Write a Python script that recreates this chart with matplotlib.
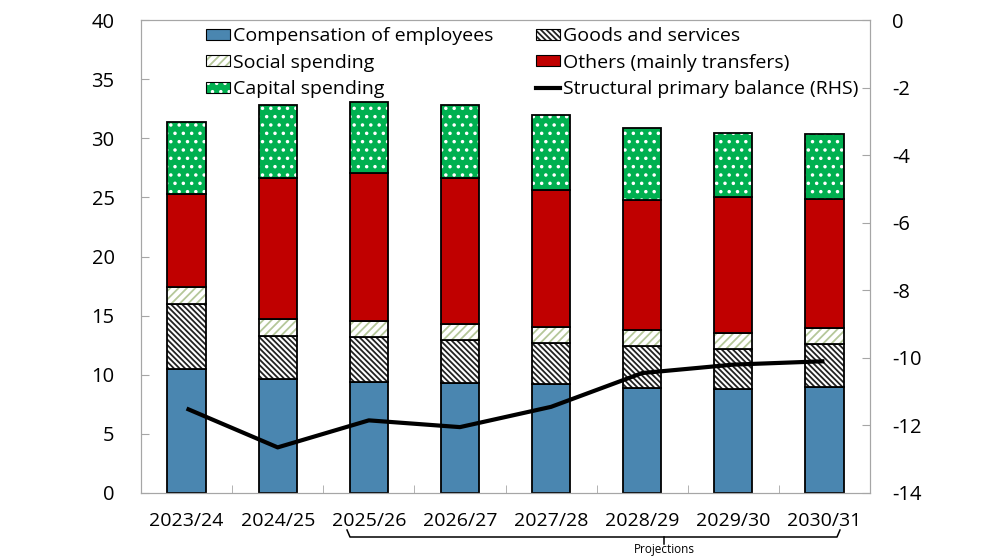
import numpy as np
import matplotlib
matplotlib.use('Agg')
import matplotlib.pyplot as plt
from matplotlib.patches import Patch
from matplotlib.lines import Line2D
from matplotlib.legend_handler import HandlerTuple

plt.rcParams['font.family'] = ['Open Sans', 'DejaVu Sans']
plt.rcParams['hatch.linewidth'] = 1.3

# 数据
years = ['2023/24', '2024/25', '2025/26', '2026/27', '2027/28', '2028/29', '2029/30', '2030/31']
compensation = [10.5, 9.6, 9.4, 9.3, 9.2, 8.9, 8.8, 9.0]
goods = [5.5, 3.7, 3.8, 3.6, 3.5, 3.5, 3.4, 3.6]
social = [1.4, 1.4, 1.35, 1.4, 1.35, 1.35, 1.35, 1.35]
others = [7.9, 11.9, 12.5, 12.3, 11.6, 11.0, 11.5, 10.9]
capital = [6.1, 6.2, 6.0, 6.2, 6.3, 6.1, 5.4, 5.5]
balance = [-11.5, -12.65, -11.85, -12.05, -11.45, -10.45, -10.2, -10.1]

blue = '#4A86B0'
red = '#C00000'
green = '#00B050'
grey = '#A6A6A6'
sage = '#B5C79A'

fig = plt.figure(figsize=(9.9, 5.57), dpi=100)
ax = fig.add_axes([141 / 990, 1 - 493 / 557, (870 - 141) / 990, (493 - 20) / 557])
ax2 = ax.twinx()

x = np.arange(len(years))
w = 0.42
bottom = np.zeros(len(years))


# 先画填充和纹理，再画黑色边框
def stacked(vals, face, hatch=None, hcolor=None):
    global bottom
    vals = np.array(vals)
    if hatch:
        ax.bar(x, vals, w, bottom=bottom, color=face, edgecolor=hcolor, hatch=hatch, linewidth=0)
    else:
        ax.bar(x, vals, w, bottom=bottom, color=face, linewidth=0)
    ax.bar(x, vals, w, bottom=bottom, fill=False, edgecolor='black', linewidth=1.3)
    bottom = bottom + vals


stacked(compensation, blue)
stacked(goods, 'white', '\\\\\\\\\\\\', '#222222')
stacked(social, 'white', '////', sage)
stacked(others, red)
stacked(capital, green, '..', 'white')

ax2.plot(x, balance, color='black', linewidth=3, solid_capstyle='butt')

ax.set_xlim(-0.5, len(years) - 0.5)
ax.set_ylim(0, 40)
ax.set_yticks(range(0, 41, 5))
ax2.set_ylim(-14, 0)
ax2.set_yticks(range(-14, 1, 2))
ax2.set_yticklabels([str(v) for v in range(-14, 1, 2)])

ax.set_xticks(x)
ax.set_xticklabels(years, fontsize=14)
ax.set_xticks(np.arange(-0.5, len(years), 1), minor=True)
ax.tick_params(axis='x', which='major', length=0, pad=14)
ax.tick_params(axis='x', which='minor', direction='in', length=6, color=grey)
ax.tick_params(axis='y', direction='in', length=6, color=grey, labelsize=14.5, pad=19)
ax2.tick_params(axis='y', direction='in', length=6, color=grey, labelsize=14.5, pad=16)
for a in (ax, ax2):
    for s in a.spines.values():
        s.set_color(grey)


# 图例：纹理块 + 黑框叠加
def hatched(face, hcolor, hatch):
    return (Patch(facecolor=face, edgecolor=hcolor, hatch=hatch, linewidth=0),
            Patch(fill=False, edgecolor='black', linewidth=0.8))


handles = [
    Patch(facecolor=blue, edgecolor='black', linewidth=0.8),
    hatched('white', sage, '////'),
    hatched(green, 'white', '..'),
    hatched('white', '#222222', '\\\\\\\\\\\\'),
    Patch(facecolor=red, edgecolor='black', linewidth=0.8),
    Line2D([0], [0], color='black', linewidth=3),
]
labels = ['Compensation of employees', 'Social spending', 'Capital spending',
          'Goods and services', 'Others (mainly transfers)', 'Structural primary balance (RHS)']
leg = ax.legend(handles, labels, ncol=2, loc='upper left', bbox_to_anchor=(0.078, 1.001),
                frameon=False, fontsize=14, handlelength=1.25, handleheight=0.5,
                handletextpad=0.15, columnspacing=2.2, labelspacing=0.43, borderaxespad=0,
                handler_map={tuple: HandlerTuple(ndivide=1)})
leg.set_zorder(5)

# Projections 括号
fy = lambda py: 1 - py / 557
fx = lambda px: px / 990
bx0, bx1, bmid = 347, 840, 664
fig.add_artist(Line2D([fx(bx0), fx(bx0 + 3), fx(bx1 - 3), fx(bx1)],
                      [fy(530), fy(537), fy(537), fy(530)], color='black', linewidth=1.1))
fig.add_artist(Line2D([fx(bmid), fx(bmid)], [fy(537), fy(544)], color='black', linewidth=1.1))
fig.text(fx(bmid), fy(556), 'Projections', ha='center', va='bottom', fontsize=8.5)

fig.savefig('out.png', dpi=100)
